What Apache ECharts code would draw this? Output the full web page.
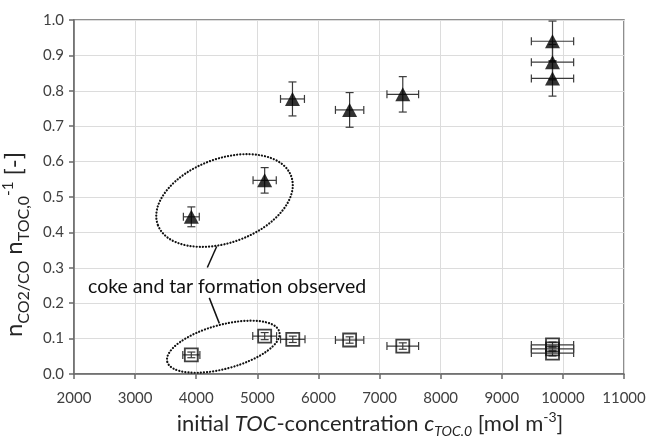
<!DOCTYPE html>
<html>
<head>
<meta charset="utf-8">
<script src="https://cdn.jsdelivr.net/npm/echarts@6/dist/echarts.min.js"></script>
<style>html,body{margin:0;padding:0;background:#fff;}#c{width:649px;height:436px;}</style>
</head>
<body>
<div id="c"></div>
<script>
// CO2/CO yield (triangles)
const triX = [3920, 5120, 5575, 6510, 7380, 9830, 9830, 9830];
const triY = [0.444, 0.547, 0.777, 0.746, 0.790, 0.940, 0.881, 0.835];
const triXErr = [130, 190, 196, 232, 259, 346, 346, 346];
const triYErr = [0.028, 0.036, 0.048, 0.049, 0.050, 0.057, 0.050, 0.050];
// second series (squares)
const sqX = [3920, 5120, 5580, 6510, 7380, 9830, 9830, 9830];
const sqY = [0.054, 0.107, 0.098, 0.096, 0.079, 0.082, 0.071, 0.059];
const sqXErr = [140, 195, 200, 232, 259, 346, 346, 346];
const sqYErr = [0.008, 0.010, 0.009, 0.009, 0.009, 0.008, 0.008, 0.008];
// axis ranges
const xMin = 2000, xMax = 11000, xStep = 1000;
const yMin = 0, yMax = 1.0, yStep = 0.1;
// annotation
const noteText = 'coke and tar formation observed';

const FONT = 'Lato, "Noto Sans", sans-serif';
const chart = echarts.init(document.getElementById('c'), null, {renderer: 'canvas'});

function errRender(params, api) {
  const x = api.value(0), y = api.value(1), ex = api.value(2), ey = api.value(3);
  const l = api.coord([x - ex, y]), r = api.coord([x + ex, y]);
  const t = api.coord([x, y + ey]), b = api.coord([x, y - ey]);
  const st = {stroke: '#3a3a3a', lineWidth: 1.2};
  const c = 4;
  const line = (x1, y1, x2, y2) => ({type: 'line', shape: {x1, y1, x2, y2}, style: st});
  return {type: 'group', children: [
    line(l[0], l[1], r[0], r[1]),
    line(l[0], l[1] - c, l[0], l[1] + c),
    line(r[0], r[1] - c, r[0], r[1] + c),
    line(t[0], t[1], b[0], b[1]),
    line(t[0] - c, t[1], t[0] + c, t[1]),
    line(b[0] - c, b[1], b[0] + c, b[1])
  ]};
}

const triData = triX.map((x, i) => [x, triY[i]]);
const sqData = sqX.map((x, i) => [x, sqY[i]]);
const triErr = triX.map((x, i) => [x, triY[i], triXErr[i], triYErr[i]]);
const sqErr = sqX.map((x, i) => [x, sqY[i], sqXErr[i], sqYErr[i]]);

chart.setOption({
  animation: false,
  backgroundColor: '#fff',
  grid: {left: 74, right: 25, top: 20, bottom: 62, show: true, borderColor: '#6a6a6a', borderWidth: 1.5,
         backgroundColor: 'transparent', containLabel: false, outerBoundsMode: 'none'},
  xAxis: {
    type: 'value', min: xMin, max: xMax, interval: xStep,
    name: '{t|initial }{i|TOC}{t|-concentration }{i|c}{isub|TOC.0}{t| [mol m}{sup|-3}{t|]}',
    nameLocation: 'middle', nameGap: 33,
    nameTextStyle: {
      padding: [0, 0, 0, 42],
      rich: {
        t: {fontFamily: FONT, fontSize: 22, color: '#262626', verticalAlign: 'bottom', lineHeight: 24},
        i: {fontFamily: FONT, fontSize: 22, color: '#262626', fontStyle: 'italic', verticalAlign: 'bottom', lineHeight: 24},
        isub: {fontFamily: FONT, fontSize: 14, color: '#262626', fontStyle: 'italic', verticalAlign: 'bottom', lineHeight: 16, padding: [0,0,-4,0]},
        sup: {fontFamily: FONT, fontSize: 14, color: '#262626', verticalAlign: 'top', lineHeight: 14}
      }
    },
    axisLine: {lineStyle: {color: '#6a6a6a', width: 1.5}},
    axisTick: {show: true, length: 5, lineStyle: {color: '#6a6a6a', width: 1.5}},
    axisLabel: {fontFamily: FONT, fontSize: 15, color: '#404040', margin: 17, formatter: v => String(v)},
    splitLine: {show: true, lineStyle: {color: '#dcdcdc', width: 1}}
  },
  yAxis: {
    type: 'value', min: yMin, max: yMax, interval: yStep,
    name: '{t|n}{sub|CO2/CO}{t| n}{sub|TOC,0}{sup|-1}{t| [-]}',
    nameLocation: 'middle', nameRotate: 90, nameGap: 36,
    nameTextStyle: {
      padding: [0, 95, 0, 0],
      rich: {
        t: {fontFamily: FONT, fontSize: 24, color: '#262626', verticalAlign: 'bottom', lineHeight: 26},
        sub: {fontFamily: FONT, fontSize: 16, color: '#262626', verticalAlign: 'bottom', lineHeight: 18, padding: [0,0,-6,0]},
        sup: {fontFamily: FONT, fontSize: 15, color: '#262626', verticalAlign: 'top', lineHeight: 15}
      }
    },
    axisLine: {show: true, lineStyle: {color: '#6a6a6a', width: 1.5}},
    axisTick: {show: true, length: 5, lineStyle: {color: '#6a6a6a', width: 1.5}},
    axisLabel: {fontFamily: FONT, fontSize: 15, color: '#404040', margin: 10, formatter: v => v.toFixed(1)},
    splitLine: {show: true, lineStyle: {color: '#dcdcdc', width: 1}}
  },
  series: [
    {type: 'custom', renderItem: errRender, data: sqErr, encode: {x: 0, y: 1}, z: 2, silent: true},
    {type: 'custom', renderItem: errRender, data: triErr, encode: {x: 0, y: 1}, z: 2, silent: true},
    {type: 'scatter', data: sqData, symbol: 'rect', symbolSize: 13, z: 3,
     itemStyle: {color: 'rgba(255,255,255,0)', borderColor: '#111', borderWidth: 1.8}},
    {type: 'scatter', data: triData, symbol: 'triangle', symbolSize: [15, 14], z: 4,
     itemStyle: {color: '#000'}}
  ]
});

// annotation anchored in data space
const P = (x, y) => chart.convertToPixel({gridIndex: 0}, [x, y]);
const e1 = P(4463, 0.490), e2 = P(4443, 0.077);
const txt = P(2229, 0.246);
const l1a = P(4335, 0.360), l1b = P(4182, 0.301);
const l2a = P(4214, 0.215), l2b = P(4378, 0.143);
const dot = {stroke: '#111', lineWidth: 2.2, lineDash: [0.1, 3], lineCap: 'round', fill: null};
chart.setOption({
  graphic: [
    {type: 'ellipse', shape: {cx: 0, cy: 0, rx: 71, ry: 42}, x: e1[0], y: e1[1], rotation: 20 * Math.PI / 180, style: dot, z: 10},
    {type: 'ellipse', shape: {cx: 0, cy: 0, rx: 58, ry: 22}, x: e2[0], y: e2[1], rotation: 15 * Math.PI / 180, style: dot, z: 10},
    {type: 'line', shape: {x1: l1a[0], y1: l1a[1], x2: l1b[0], y2: l1b[1]}, style: {stroke: '#111', lineWidth: 1.5}, z: 10},
    {type: 'line', shape: {x1: l2a[0], y1: l2a[1], x2: l2b[0], y2: l2b[1]}, style: {stroke: '#111', lineWidth: 1.5}, z: 10},
    {type: 'text', x: txt[0], y: txt[1], z: 10,
     style: {text: noteText, fontFamily: FONT, fontSize: 19.5, fill: '#111', verticalAlign: 'middle'}}
  ]
});
</script>
</body>
</html>
